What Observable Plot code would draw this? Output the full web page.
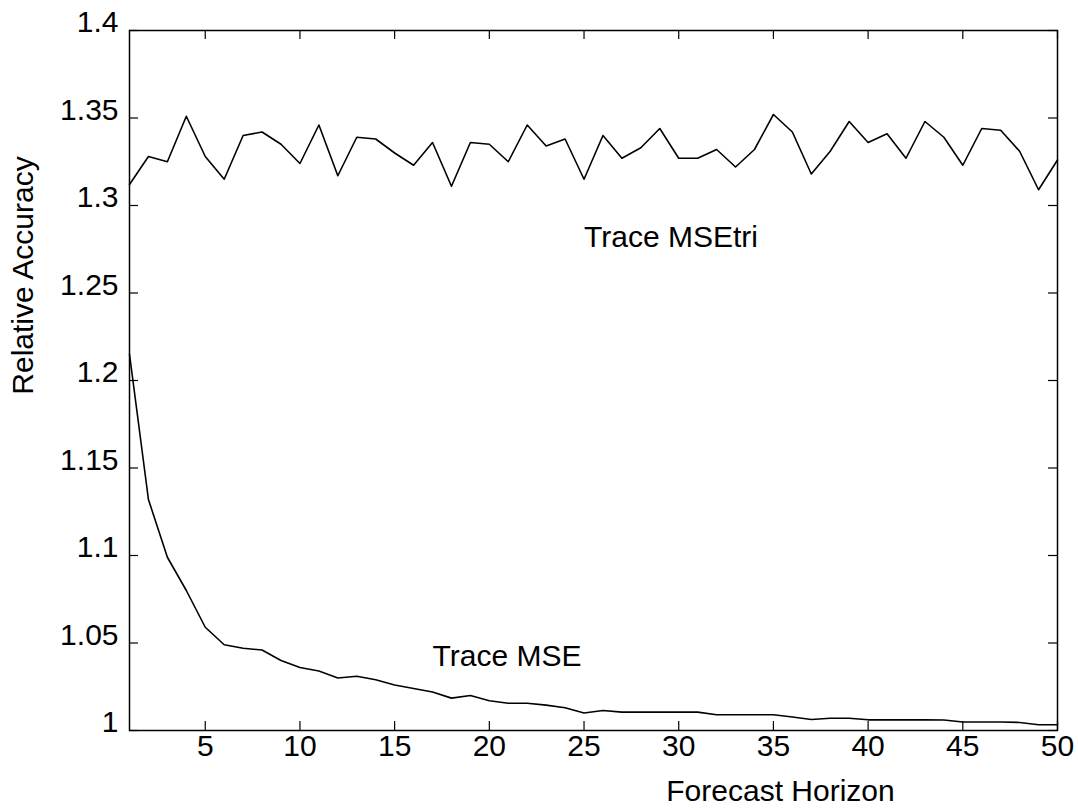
<!DOCTYPE html>
<html>
<head>
<meta charset="utf-8">
<script src="https://cdn.jsdelivr.net/npm/d3@7"></script>
<script src="https://cdn.jsdelivr.net/npm/@observablehq/plot@0.6"></script>
<style>
  html, body { margin: 0; padding: 0; background: #fff; }
  #chart svg { display: block; }
</style>
</head>
<body>
<div id="chart"></div>
<script>
// Forecast horizons 1..50
const horizon = [1,2,3,4,5,6,7,8,9,10,11,12,13,14,15,16,17,18,19,20,21,22,23,24,25,26,27,28,29,30,31,32,33,34,35,36,37,38,39,40,41,42,43,44,45,46,47,48,49,50];

// Trace MSEtri relative accuracy
const mseTri = [1.312,1.328,1.325,1.351,1.328,1.315,1.340,1.342,1.335,1.324,1.346,1.317,1.339,1.338,1.330,1.323,1.336,1.311,1.336,1.335,1.325,1.346,1.334,1.338,1.315,1.340,1.327,1.333,1.344,1.327,1.327,1.332,1.322,1.332,1.352,1.342,1.318,1.331,1.348,1.336,1.341,1.327,1.348,1.339,1.323,1.344,1.343,1.331,1.309,1.326];

// Trace MSE relative accuracy
const mse = [1.215,1.132,1.099,1.080,1.059,1.049,1.047,1.046,1.040,1.036,1.034,1.030,1.031,1.029,1.026,1.024,1.022,1.0185,1.020,1.017,1.0156,1.0156,1.0145,1.013,1.010,1.0114,1.0105,1.0105,1.0105,1.0105,1.0105,1.009,1.009,1.009,1.009,1.0077,1.0063,1.007,1.007,1.0061,1.0061,1.0061,1.0061,1.006,1.0049,1.0049,1.0049,1.0046,1.0033,1.0033];

const xTicks = [5,10,15,20,25,30,35,40,45,50];
const yTicks = [1,1.05,1.1,1.15,1.2,1.25,1.3,1.35,1.4];
const yTickLabels = ["1","1.05","1.1","1.15","1.2","1.25","1.3","1.35","1.4"];
const xTitle = "Forecast Horizon";
const yTitle = "Relative Accuracy";
const annotations = [
  {x: 25, y: 1.282, text: "Trace MSEtri"},
  {x: 17, y: 1.0423, text: "Trace MSE"}
];

const triData = horizon.map((h, i) => ({h, v: mseTri[i]}));
const mseData = horizon.map((h, i) => ({h, v: mse[i]}));

const W = 1078, H = 810;
const mL = 129, mR = 21, mT = 30, mB = 80;
const pw = W - mL - mR, ph = H - mT - mB;
const tl = 9;
const FS = 30;

const chart = Plot.plot({
  width: W,
  height: H,
  marginLeft: mL,
  marginRight: mR,
  marginTop: mT,
  marginBottom: mB,
  style: {fontFamily: "'Liberation Sans', Arial, sans-serif", fontSize: FS + "px", color: "#000", background: "#fff"},
  x: {domain: [1, 50]},
  y: {domain: [1, 1.4]},
  marks: [
    Plot.frame({stroke: "#000", strokeWidth: 1.5}),
    // inward ticks, bottom & top
    Plot.ruleX(xTicks, {x: d => d, insetTop: ph - tl, stroke: "#000", strokeWidth: 1.2}),
    Plot.ruleX(xTicks, {x: d => d, insetBottom: ph - tl, stroke: "#000", strokeWidth: 1.2}),
    // inward ticks, left & right
    Plot.ruleY(yTicks, {y: d => d, insetRight: pw - tl, stroke: "#000", strokeWidth: 1.2}),
    Plot.ruleY(yTicks, {y: d => d, insetLeft: pw - tl, stroke: "#000", strokeWidth: 1.2}),
    Plot.axisX({ticks: xTicks, tickSize: 0, tickPadding: 4, label: null, fontSize: FS, fill: "#000"}),
    Plot.axisY({ticks: yTicks, tickFormat: d => yTickLabels[yTicks.indexOf(d)], tickSize: 0, tickPadding: 11, label: null, fontSize: FS, fill: "#000", dy: -8}),
    Plot.line(triData, {x: "h", y: "v", stroke: "#000", strokeWidth: 1.6}),
    Plot.line(mseData, {x: "h", y: "v", stroke: "#000", strokeWidth: 1.6}),
    Plot.text(annotations, {x: "x", y: "y", text: "text", textAnchor: "start", fontSize: FS, fill: "#000"}),
    Plot.text([xTitle], {frameAnchor: "bottom", text: d => d, textAnchor: "middle", lineAnchor: "middle", dx: 187, dy: 61, fontSize: FS, fill: "#000"}),
    Plot.text([yTitle], {frameAnchor: "left", text: d => d, textAnchor: "middle", lineAnchor: "middle", rotate: -90, dx: -106, dy: -105, fontSize: FS, fill: "#000"})
  ]
});
document.getElementById("chart").appendChild(chart);
</script>
</body>
</html>
